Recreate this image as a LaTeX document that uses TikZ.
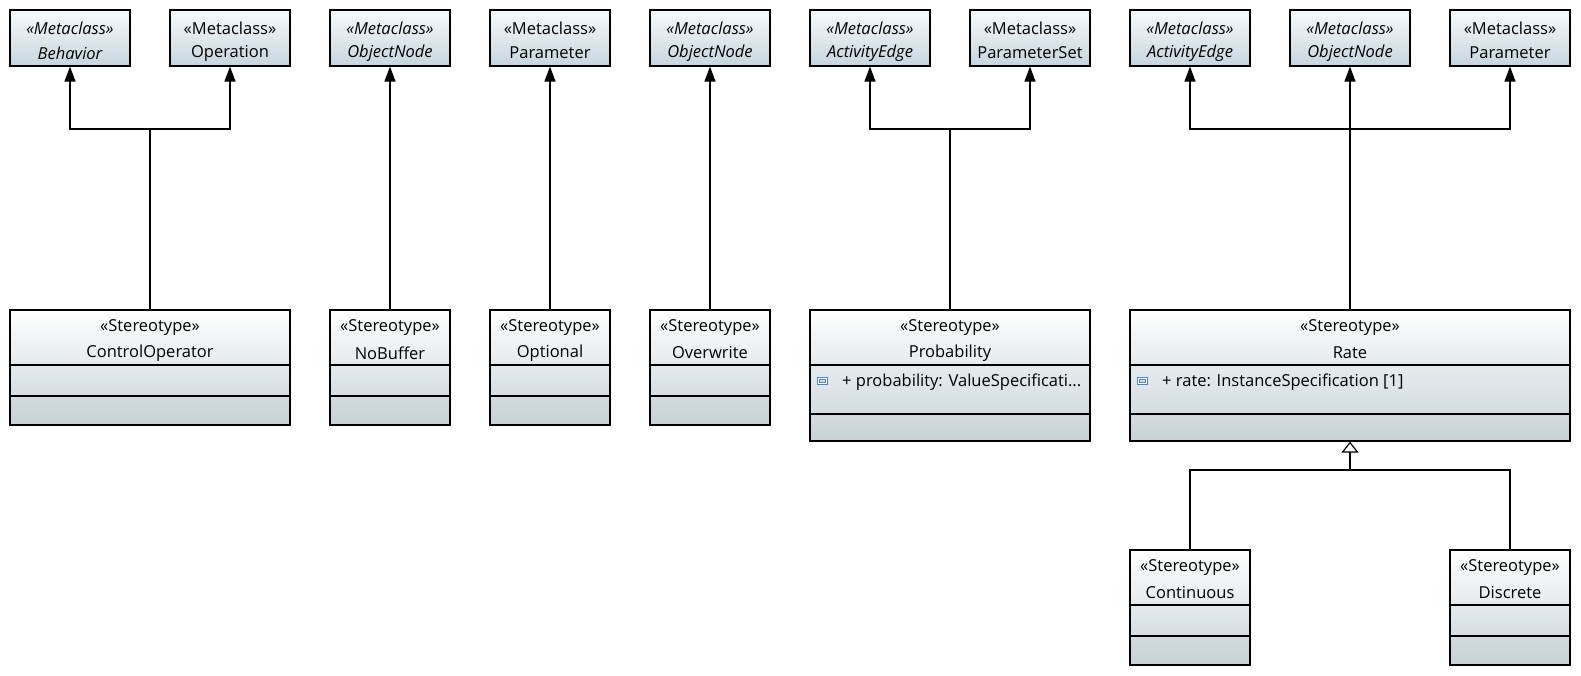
\documentclass[tikz,border=0pt]{standalone}
\usepackage{fontspec}
\setmainfont{Open Sans}
\usetikzlibrary{arrows.meta,fit}
\definecolor{mtop}{HTML}{F7FAFB}
\definecolor{mbot}{HTML}{C6D6DE}
\definecolor{htop}{HTML}{FFFFFF}
\definecolor{hbot}{HTML}{E5EAEC}
\definecolor{ctop}{HTML}{E6EBED}
\definecolor{cbot}{HTML}{D5DDE1}
\definecolor{dtop}{HTML}{D3DBDF}
\definecolor{dbot}{HTML}{C6D2D7}
\definecolor{icon}{HTML}{4F86C6}
\tikzset{
  boxline/.style={draw=black, line width=1.2pt},
  txt/.style={font=\fontsize{16.5}{20}\selectfont, inner sep=0pt},
  arr/.style={line width=1.2pt, -{Triangle[length=15pt,width=11pt]}},
  gen/.style={line width=1.2pt, -{Triangle[open,length=11pt,width=17pt,fill=white]}},
  conn/.style={line width=1.2pt},
}
\newcommand\metabox[5]{% name, xl, xr, label, italic
  \shade[top color=mtop, bottom color=mbot] (#2,10) rectangle (#3,66);
  \node[fit={(#2,10) (#3,66)}, inner sep=0pt, boxline] (#1) {};
  \node[txt] (#1-s) at ({(#2+#3)/2},28) {#5«Metaclass»};
  \node[txt] (#1-n) at ({(#2+#3)/2},53) {#5#4};
}
\newcommand\stbox[8]{% name, xl, xr, top, line1, line2, bottom, label
  \shade[top color=htop, bottom color=hbot] (#2,#4) rectangle (#3,#5);
  \shade[top color=ctop, bottom color=cbot] (#2,#5) rectangle (#3,#6);
  \shade[top color=dtop, bottom color=dbot] (#2,#6) rectangle (#3,#7);
  \draw[line width=1.2pt] (#2,#5) -- (#3,#5) (#2,#6) -- (#3,#6);
  \node[fit={(#2,#4) (#3,#7)}, inner sep=0pt, boxline] (#1) {};
  \node[txt] (#1-s) at ({(#2+#3)/2},{#4+18}) {«Stereotype»};
  \node[txt] (#1-n) at ({(#2+#3)/2},{#4+43}) {#8};
}
\newcommand\attricon[2]{%
  \draw[icon, line width=0.9pt, fill=white] (#1,#2) rectangle ({#1+10},{#2+7});
  \draw[icon, line width=0.8pt, fill=icon!25] ({#1+2},{#2+2}) rectangle ({#1+8},{#2+5});
}
\begin{document}
\begin{tikzpicture}[x=1pt,y=-1pt]
\useasboundingbox (0,0) rectangle (1581,676);
\fill[white] (0,0) rectangle (1581,676);

% metaclasses
\metabox{beh}{10}{130}{Behavior}{\itshape}
\metabox{oper}{170}{290}{Operation}{}
\metabox{objA}{330}{450}{ObjectNode}{\itshape}
\metabox{parA}{490}{610}{Parameter}{}
\metabox{objB}{650}{770}{ObjectNode}{\itshape}
\metabox{aeA}{810}{930}{ActivityEdge}{\itshape}
\metabox{pset}{970}{1090}{ParameterSet}{}
\metabox{aeB}{1130}{1250}{ActivityEdge}{\itshape}
\metabox{objC}{1290}{1410}{ObjectNode}{\itshape}
\metabox{parB}{1450}{1570}{Parameter}{}

% stereotypes
\stbox{ctrl}{10}{290}{310}{365}{396}{425}{ControlOperator}
\stbox{nobuf}{330}{450}{310}{365}{396}{425}{NoBuffer}
\stbox{opt}{490}{610}{310}{365}{396}{425}{Optional}
\stbox{ovw}{650}{770}{310}{365}{396}{425}{Overwrite}
\stbox{prob}{810}{1090}{310}{365}{414}{441}{Probability}
\stbox{rate}{1130}{1570}{310}{365}{414}{441}{Rate}
\stbox{cont}{1130}{1250}{550}{605}{636}{665}{Continuous}
\stbox{disc}{1450}{1570}{550}{605}{636}{665}{Discrete}

% attributes
\attricon{817}{377}
\node[txt, anchor=west] (probattr) at (842,382) {+ probability: ValueSpecificati...};
\attricon{1137}{377}
\node[txt, anchor=west] (rateattr) at (1162,382) {+ rate: InstanceSpecification [1]};

% extensions
\coordinate (j1) at (150,129);
\draw[conn] (ctrl.north) -- (j1);
\draw[arr] (j1) -| (beh.south);
\draw[arr] (j1) -| (oper.south);

\draw[arr] (nobuf.north) -- (objA.south);
\draw[arr] (opt.north) -- (parA.south);
\draw[arr] (ovw.north) -- (objB.south);

\coordinate (j2) at (950,129);
\draw[conn] (prob.north) -- (j2);
\draw[arr] (j2) -| (aeA.south);
\draw[arr] (j2) -| (pset.south);

\coordinate (j3) at (1350,129);
\draw[arr] (rate.north) -- (objC.south);
\draw[arr] (j3) -| (aeB.south);
\draw[arr] (j3) -| (parB.south);

% generalization
\coordinate (j4) at (1350,470);
\draw[conn] (cont.north) |- (j4);
\draw[conn] (disc.north) |- (j4);
\draw[gen] (j4) -- (rate.south);
\end{tikzpicture}
\end{document}
